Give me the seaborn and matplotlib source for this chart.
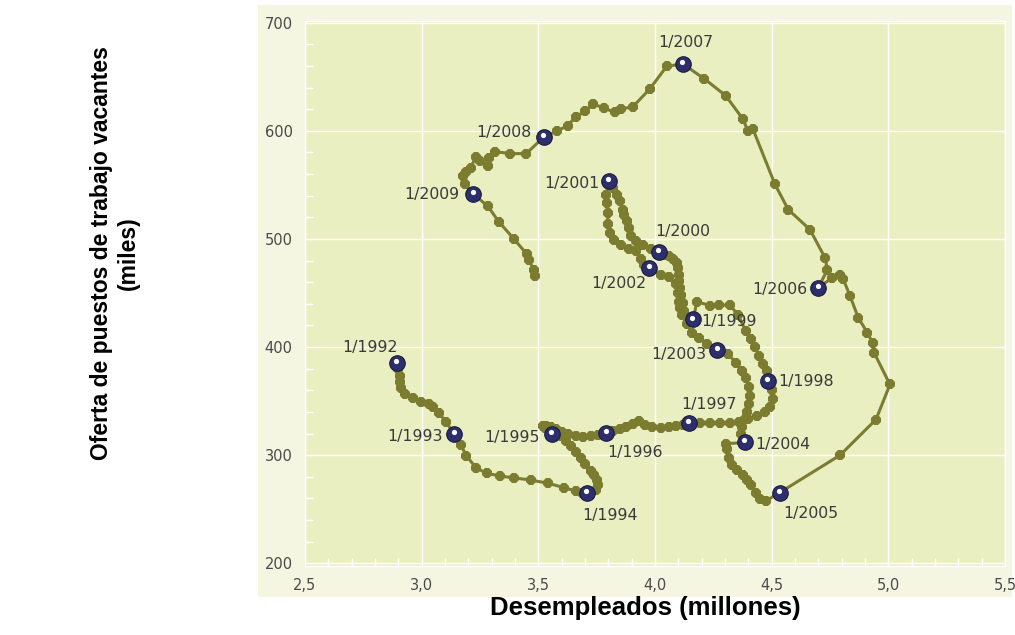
import matplotlib
matplotlib.use("Agg")
import matplotlib.pyplot as plt
import matplotlib.patches as mpatches
from matplotlib.transforms import offset_copy
from matplotlib.ticker import MultipleLocator, FuncFormatter
import pandas as pd
import seaborn as sns

# serie mensual 1/1992 - 2009 (desempleados en millones, vacantes en miles)
desempleados = [
    2.894, 2.899, 2.905, 2.907, 2.913, 2.930, 2.962, 2.997, 3.030, 3.050, 3.073, 3.104,  # 1992
    3.140, 3.168, 3.192, 3.232, 3.278, 3.335, 3.396, 3.467, 3.543, 3.610, 3.660, 3.685,  # 1993
    3.709, 3.745, 3.756, 3.752, 3.738, 3.724, 3.702, 3.681, 3.660, 3.638, 3.620, 3.595,  # 1994
    3.557, 3.528, 3.520, 3.534, 3.553, 3.574, 3.600, 3.628, 3.660, 3.691, 3.724, 3.756,  # 1995
    3.791, 3.820, 3.849, 3.877, 3.906, 3.931, 3.957, 3.989, 4.024, 4.060, 4.091, 4.120,  # 1996
    4.146, 4.191, 4.234, 4.277, 4.320, 4.360, 4.400, 4.439, 4.471, 4.493, 4.506, 4.503,  # 1997
    4.485, 4.480, 4.463, 4.447, 4.429, 4.411, 4.389, 4.355, 4.321, 4.275, 4.235, 4.180,  # 1998
    4.163, 4.125, 4.118, 4.111, 4.107, 4.104, 4.101, 4.097, 4.093, 4.075, 4.058, 4.040,  # 1999
    4.016, 3.983, 3.947, 3.919, 3.897, 3.887, 3.879, 3.869, 3.862, 3.848, 3.836, 3.819,  # 2000
    3.801, 3.791, 3.793, 3.798, 3.798, 3.805, 3.826, 3.855, 3.887, 3.919, 3.940, 3.954,  # 2001
    3.976, 4.026, 4.061, 4.090, 4.100, 4.104, 4.108, 4.115, 4.135, 4.160, 4.190, 4.225,  # 2002
    4.267, 4.314, 4.349, 4.374, 4.391, 4.403, 4.406, 4.403, 4.396, 4.386, 4.371, 4.367,  # 2003
    4.386, 4.303, 4.307, 4.317, 4.331, 4.353, 4.375, 4.393, 4.411, 4.432, 4.451, 4.476,  # 2004
    4.535, 4.793, 4.947, 5.007, 4.939, 4.933, 4.910, 4.871, 4.836, 4.807, 4.793, 4.758,  # 2005
    4.700, 4.739, 4.729, 4.664, 4.571, 4.514, 4.420, 4.399, 4.377, 4.303, 4.212,         # 2006
    4.119, 4.050, 3.978, 3.906, 3.856, 3.827, 3.780, 3.736, 3.700, 3.661, 3.625, 3.582,  # 2007
    3.524, 3.448, 3.380, 3.316, 3.287, 3.285, 3.250, 3.232, 3.210, 3.190, 3.179, 3.185,  # 2008
    3.222, 3.284, 3.330, 3.395, 3.452, 3.460, 3.481, 3.486,                              # 2009
]
vacantes = [
    385.0, 379.9, 373.7, 368.1, 361.9, 356.7, 352.6, 349.5, 347.4, 344.9, 339.0, 331.0,
    319.5, 309.3, 299.4, 288.5, 283.3, 280.8, 279.0, 277.1, 274.0, 270.0, 266.9, 265.3,
    265.3, 267.8, 272.1, 277.1, 281.4, 285.4, 291.6, 297.8, 303.1, 308.7, 313.3, 318.0,
    319.5, 324.8, 326.6, 327.2, 326.0, 324.1, 321.7, 319.2, 317.3, 316.7, 317.3, 318.6,
    320.4, 322.0, 324.1, 326.3, 328.8, 331.9, 328.2, 325.7, 324.8, 325.7, 326.9, 328.2,
    329.4, 330.0, 330.0, 329.7, 329.7, 331.0, 333.1, 335.9, 339.6, 344.9, 352.0, 360.4,
    369.0, 377.6, 384.5, 391.3, 400.0, 407.8, 414.9, 430.0, 438.8, 439.0, 438.4, 442.0,
    425.5, 433.0, 440.7, 448.5, 454.6, 460.8, 467.0, 473.1, 477.8, 481.8, 484.0, 485.5,
    488.0, 491.0, 494.1, 497.8, 502.5, 510.2, 516.4, 522.5, 527.2, 534.9, 541.0, 547.2,
    553.4, 541.0, 533.3, 524.1, 513.9, 505.6, 499.4, 494.1, 491.0, 488.6, 481.8, 476.2,
    473.1, 466.4, 464.5, 458.0, 450.0, 442.0, 436.0, 429.5, 421.0, 413.0, 408.0, 403.0,
    396.9, 393.2, 385.1, 378.3, 371.5, 363.5, 355.1, 347.4, 339.6, 333.4, 326.3, 319.5,
    311.8, 310.6, 305.3, 297.5, 291.3, 286.6, 282.0, 277.3, 272.0, 264.9, 259.6, 257.8,
    265.5, 300.0, 333.0, 365.4, 394.8, 404.0, 413.3, 427.2, 447.2, 462.7, 466.9, 463.8,
    455.0, 471.5, 482.4, 508.7, 527.2, 550.5, 601.5, 599.4, 610.8, 632.5, 648.0,
    661.9, 659.6, 638.8, 622.4, 620.2, 617.1, 621.1, 624.8, 618.0, 613.0, 604.7, 600.0,
    594.4, 578.9, 578.9, 580.7, 575.2, 567.4, 572.0, 575.8, 566.0, 562.0, 558.0, 551.0,
    541.6, 530.1, 516.1, 500.0, 485.7, 480.4, 471.1, 465.8,
]

# puntos de enero marcados
enero_etiquetas = ["1/1992", "1/1993", "1/1994", "1/1995", "1/1996", "1/1997",
                   "1/1998", "1/1999", "1/2000", "1/2001", "1/2002", "1/2003",
                   "1/2004", "1/2005", "1/2006", "1/2007", "1/2008", "1/2009"]
enero_desempleados = [2.894, 3.140, 3.709, 3.557, 3.791, 4.146, 4.485, 4.163, 4.016,
                      3.801, 3.976, 4.267, 4.386, 4.535, 4.700, 4.119, 3.524, 3.222]
enero_vacantes = [385.0, 319.5, 265.3, 319.5, 320.4, 329.4, 369.0, 425.5, 488.0,
                  553.4, 473.1, 396.9, 311.8, 265.5, 455.0, 661.9, 594.4, 541.6]

# posicion de cada etiqueta respecto al punto (pixeles) y alineacion
posicion_etiqueta = {
    "1/1992": (-27, 16, "center"), "1/1993": (-12, -2, "right"),
    "1/1994": (23, -23, "center"), "1/1995": (-12, -3, "right"),
    "1/1996": (29, -19, "center"), "1/1997": (20, 19, "center"),
    "1/1998": (10, -1, "left"), "1/1999": (8, -2, "left"),
    "1/2000": (24, 20, "center"), "1/2001": (-9, -2, "right"),
    "1/2002": (-31, -15, "center"), "1/2003": (-11, -4, "right"),
    "1/2004": (10, -2, "left"), "1/2005": (31, -21, "center"),
    "1/2006": (-11, -2, "right"), "1/2007": (3, 21, "center"),
    "1/2008": (-12, 4, "right"), "1/2009": (-14, -1, "right"),
}

sns.set_style("white")
plt.rcParams['font.family'] = ['Liberation Sans', 'DejaVu Sans']

W, H = 1015, 635
fig = plt.figure(figsize=(W / 100, H / 100), dpi=100)
fondo = mpatches.Rectangle((258 / W, 1 - 597 / H), (1012 - 258) / W, (597 - 5) / H,
                           transform=fig.transFigure, facecolor='#f4f6e1',
                           edgecolor='none', zorder=-10)
fig.add_artist(fondo)
ax = fig.add_axes([305 / W, 1 - 565.5 / H, 700 / W, 545 / H])
ax.set_zorder(1)
ax.set_facecolor('#eaefc2')

df = pd.DataFrame({"desempleados": desempleados, "vacantes": vacantes})
sns.lineplot(data=df, x="desempleados", y="vacantes", sort=False, estimator=None,
             color='#7b7c30', linewidth=2.2, marker='8', markersize=7.8,
             markeredgewidth=0, ax=ax, zorder=3)

sns.scatterplot(x=enero_desempleados, y=enero_vacantes, s=125, color='#2d2f6c',
                edgecolor='#191a44', linewidth=0.8, ax=ax, zorder=5)
brillo = offset_copy(ax.transData, fig=fig, x=-0.5, y=1.4, units='points')
ax.scatter(enero_desempleados, enero_vacantes, s=14, color='white', linewidths=0,
           transform=brillo, zorder=6)

for etiqueta, ex, ey in zip(enero_etiquetas, enero_desempleados, enero_vacantes):
    dx, dy, ha = posicion_etiqueta[etiqueta]
    ax.annotate(etiqueta, (ex, ey), xytext=(dx, dy), textcoords='offset pixels',
                ha=ha, va='center', fontsize=11.3, color='#3a3a3a', zorder=7,
                family='DejaVu Sans')

ax.set_xlim(2.5, 5.5)
ax.set_ylim(198, 702)
ax.xaxis.set_major_locator(MultipleLocator(0.5))
ax.yaxis.set_major_locator(MultipleLocator(100))
ax.xaxis.set_minor_locator(MultipleLocator(0.1))
ax.yaxis.set_minor_locator(MultipleLocator(20))
ax.xaxis.set_major_formatter(FuncFormatter(lambda v, p: f"{v:.1f}".replace('.', ',')))
ax.yaxis.set_major_formatter(FuncFormatter(lambda v, p: f"{v:.0f}"))
ax.grid(True, which='major', color='white', linewidth=1.0)
ax.tick_params(which='major', length=0, pad=9, labelsize=10.5, labelcolor='#4a4a4a')
ax.tick_params(which='minor', direction='in', length=6, color='white', width=1,
               bottom=True, left=True, top=False, right=False)
for lab in ax.get_xticklabels() + ax.get_yticklabels():
    lab.set_family('DejaVu Sans')
for s in ax.spines.values():
    s.set_color('white')
    s.set_linewidth(1)
ax.set_xlabel("")
ax.set_ylabel("")

fig.text(645 / W, 1 - 608 / H, "Desempleados (millones)", ha='center', va='center',
         fontsize=18.5, fontweight='bold', color='black')
fig.text(115 / W, 1 - 253 / H, "Oferta de puestos de trabajo vacantes\n(miles)",
         rotation=90, ha='center', va='center', multialignment='center',
         fontsize=16.5, fontweight='bold', color='black')

fig.savefig("out.png", dpi=100)
